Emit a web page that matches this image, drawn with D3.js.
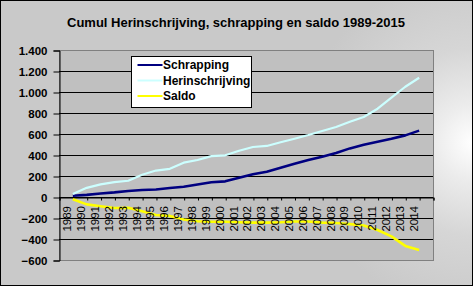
<!DOCTYPE html>
<html>
<head>
<meta charset="utf-8">
<script src="https://cdn.jsdelivr.net/npm/d3@7"></script>
<style>
  html, body { margin: 0; padding: 0; background: #fff; }
  svg { display: block; }
  text { font-family: Arial, "Liberation Sans", sans-serif; }
</style>
</head>
<body>
<svg id="chart" width="473" height="286"></svg>
<script>
// Cumulative re-registrations, removals and balance per year
const years = [1989, 1990, 1991, 1992, 1993, 1994, 1995, 1996, 1997, 1998, 1999, 2000, 2001,
               2002, 2003, 2004, 2005, 2006, 2007, 2008, 2009, 2010, 2011, 2012, 2013, 2014];
const schrapping = [12, 20, 34, 44, 57, 66, 72, 85, 98, 119, 140, 149, 184,
                    216, 241, 279, 317, 352, 384, 419, 463, 498, 527, 555, 587, 632];
const herinschrijving = [28, 87, 120, 142, 155, 212, 252, 268, 327, 352, 389, 397, 441,
                         476, 486, 521, 555, 590, 629, 667, 717, 762, 841, 946, 1050, 1136];
const saldo = [-22, -70, -88, -105, -103, -135, -172, -180, -215, -231, -235, -236, -240,
               -244, -244, -241, -234, -234, -244, -247, -258, -271, -314, -375, -466, -505];
const yTicks = [-600, -400, -200, 0, 200, 400, 600, 800, 1000, 1200, 1400];

const seriesNames = ["Schrapping", "Herinschrijving", "Saldo"];
const seriesColors = ["#000080", "#CCFFFF", "#FFFF00"];
const seriesValues = [schrapping, herinschrijving, saldo];

const W = 473, H = 286;
const plot = { left: 59, right: 433, top: 50, bottom: 260 };

const svg = d3.select("#chart");

// chart area background: grey with a light glow on the right
const defs = svg.append("defs");
const grad = defs.append("radialGradient")
  .attr("id", "bg")
  .attr("gradientUnits", "userSpaceOnUse")
  .attr("cx", 473).attr("cy", 142).attr("r", 170);
grad.append("stop").attr("offset", 0).attr("stop-color", "#ffffff");
grad.append("stop").attr("offset", 0.22).attr("stop-color", "#ececec");
grad.append("stop").attr("offset", 0.55).attr("stop-color", "#d6d6d6");
grad.append("stop").attr("offset", 1).attr("stop-color", "#c9c9c9");

svg.append("rect")
  .attr("x", 0.5).attr("y", 0.5).attr("width", W - 1).attr("height", H - 1)
  .attr("fill", "url(#bg)").attr("stroke", "#000").attr("stroke-width", 1);

// scales: one slot before 1989 and one after 2014
const x = d3.scaleLinear().domain([1988, 2015]).range([plot.left, plot.right]);
const y = d3.scaleLinear().domain([-600, 1400]).range([plot.bottom, plot.top]);

// plot area
svg.append("rect")
  .attr("x", plot.left + 0.5).attr("y", plot.top + 0.5)
  .attr("width", plot.right - plot.left).attr("height", plot.bottom - plot.top)
  .attr("fill", "#C0C0C0").attr("stroke", "#808080").attr("stroke-width", 1);

// horizontal gridlines
svg.append("g").selectAll("line")
  .data(yTicks.filter(v => v > -600 && v < 1400))
  .join("line")
  .attr("x1", plot.left).attr("x2", plot.right)
  .attr("y1", d => Math.round(y(d)) + 0.5).attr("y2", d => Math.round(y(d)) + 0.5)
  .attr("stroke", "#000").attr("stroke-width", 1);

// y axis
const nl = d3.formatLocale({ decimal: ",", thousands: ".", grouping: [3], currency: ["€", ""] });
const fmt = nl.format(",d");
const yAxis = d3.axisLeft(y).tickValues(yTicks).tickFormat(fmt).tickSize(6).tickPadding(6);
const gy = svg.append("g")
  .attr("transform", `translate(${plot.left + 0.5},0.5)`)
  .call(yAxis);
gy.select(".domain").attr("stroke", "#000");
gy.selectAll(".tick line").attr("stroke", "#000");
gy.selectAll(".tick text")
  .attr("fill", "#000")
  .style("font-size", "11.5px").style("font-weight", "bold")
  .attr("dy", "0.36em");

// x axis along the zero line
const tickYears = d3.range(1988, 2016);
const xAxis = d3.axisBottom(x).tickValues(tickYears).tickSize(3).tickFormat("");
const gx = svg.append("g")
  .attr("transform", `translate(0.5,${Math.round(y(0)) + 0.5})`)
  .call(xAxis);
gx.select(".domain").attr("stroke", "#000");
gx.selectAll(".tick line").attr("stroke", "#000");

// series lines
const line = d3.line()
  .x((d, i) => x(years[i]))
  .y(d => y(d));

svg.append("g").selectAll("path")
  .data(seriesValues)
  .join("path")
  .attr("d", d => line(d))
  .attr("fill", "none")
  .attr("stroke", (d, i) => seriesColors[i])
  .attr("stroke-width", (d, i) => i === 1 ? 2.2 : 2.6)
  .attr("stroke-linejoin", "round");

// rotated year labels, drawn above the lines
svg.append("g").selectAll("text")
  .data(years)
  .join("text")
  .attr("transform", d => `translate(${x(d) - 5.5},${y(0) + 9}) rotate(-90)`)
  .attr("text-anchor", "end")
  .attr("dy", "0.35em")
  .style("font-size", "11.5px")
  .attr("fill", "#000")
  .text(d => d);

// legend
const lg = svg.append("g").attr("transform", "translate(131.5,56.5)");
lg.append("rect")
  .attr("width", 120).attr("height", 51)
  .attr("fill", "#fff").attr("stroke", "#000").attr("stroke-width", 1);
seriesNames.forEach((name, i) => {
  const cy = 8.5 + i * 15.5;
  lg.append("line")
    .attr("x1", 6).attr("x2", 31).attr("y1", cy).attr("y2", cy)
    .attr("stroke", seriesColors[i]).attr("stroke-width", 2);
  lg.append("text")
    .attr("x", 31.5).attr("y", cy).attr("dy", "0.36em")
    .style("font-size", "12px").style("font-weight", "bold")
    .attr("fill", "#000")
    .text(name);
});

// title
svg.append("text")
  .attr("x", 236).attr("y", 27)
  .attr("text-anchor", "middle")
  .style("font-size", "13px").style("font-weight", "bold")
  .attr("textLength", 338).attr("lengthAdjust", "spacingAndGlyphs")
  .attr("fill", "#000")
  .text("Cumul Herinschrijving, schrapping en saldo 1989-2015");
</script>
</body>
</html>
